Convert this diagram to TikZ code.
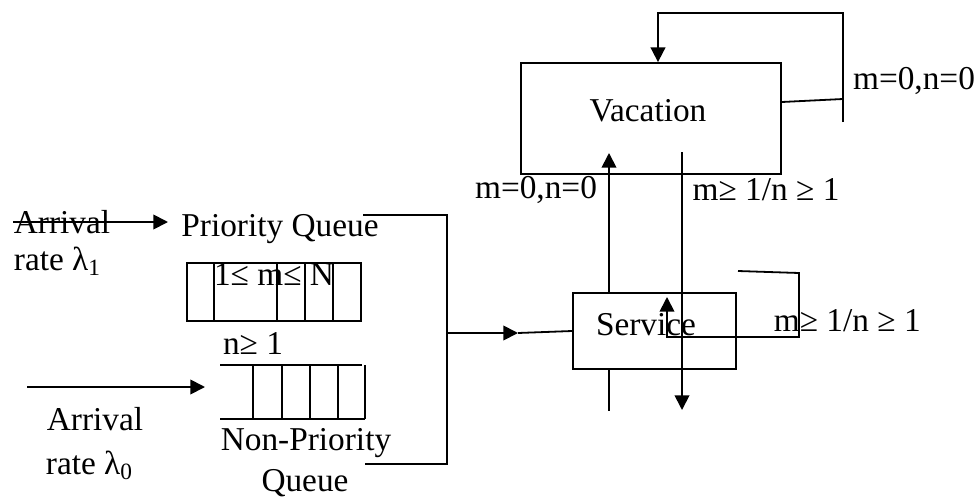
\documentclass[tikz,border=0pt]{standalone}
\usepackage{fontspec}
\setmainfont{Liberation Serif}
\usetikzlibrary{arrows.meta,calc,positioning}

\begin{document}
\begin{tikzpicture}[x=0.75pt,y=-0.75pt,line width=1.35pt,
		>={Triangle[length=11pt,width=11pt]},
		font=\fontsize{25}{30}\selectfont,
		lbl/.style={inner sep=0pt},
		blk/.style={draw,inner sep=0pt}]
		\useasboundingbox (0,0) rectangle (980,503);
		% blocks
		\node[blk,minimum width=195pt,minimum height=83.25pt] (vac) at (651,118.5) {};
		\node[lbl] (vactxt) at (648,111) {Vacation};
		\node[blk,minimum width=122.25pt,minimum height=57pt] (serv) at (654.5,331) {};
		\node[lbl] (servtxt) at (646,325) {Service};
		% priority queue
		\draw (187,263) rectangle (361,321);
		\foreach \x in {214,277,305,333}
			\draw (\x,263) -- (\x,321);
		% non-priority queue
		\draw (220,365) -- (362,365);
		\draw (220,419) -- (365,419);
		\foreach \x in {253,282,310,338,365}
			\draw (\x,365) -- (\x,419);
		% texts
		\node[lbl] (arr1) at (62,222) {Arrival};
		\node[lbl,anchor=west] (rate1) at (13,261) {rate λ\textsubscript{1}};
		\node[lbl] (pqtxt) at (280,229) {Priority Queue};
		\node[lbl] (mrange) at (274,274) {1≤ m≤ N};
		\node[lbl] (nrange) at (253,343) {n≥ 1};
		\node[lbl] (arr0) at (95,419) {Arrival};
		\node[lbl,anchor=west] (rate0) at (45,465) {rate λ\textsubscript{0}};
		\node[lbl] (nptxt) at (306,443) {Non-Priority};
		\node[lbl] (nqtxt) at (305,483) {Queue};
		\node[lbl] (c1) at (536,190) {m=0,n=0};
		\node[lbl] (c2) at (766,190) {m≥ 1/n ≥ 1};
		\node[lbl] (c3) at (914,81) {m=0,n=0};
		\node[lbl,anchor=west] (c4) at (773,321) {m≥ 1/n ≥ 1};
		% connectors
		\coordinate (a1) at (13,222);
		\coordinate (a1end) at (168,222);
		\coordinate (a0) at (27,387);
		\coordinate (join) at (447,333);
		\draw[->] (a1) -- (a1end);
		\draw[->] (a0) -- (205,387);
		\draw (363,215) -- (447,215) -- (447,464) -- (365,464);
		\draw[->] (join) -- (518,333);
		\draw (518,333) -- (serv.west);
		\draw[->] (609,293) -- (609,153);
		\draw (609,369) -- (609,411);
		\draw[->] (682,152) -- (682,410);
		\draw (vac.east |- 0,102) -- (843,99);
		\draw[->] (843,122) -- (843,13) -- (658,13) -- (vac.north -| 658,0);
		\draw[->] (738,271) -- (799,273) -- (799,337) -- (667,337) -- (667,297);
\end{tikzpicture}
\end{document}
